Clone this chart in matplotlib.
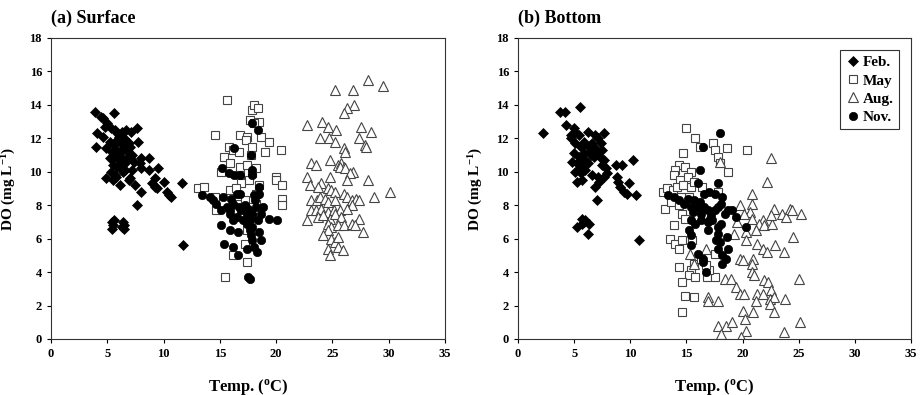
import matplotlib
matplotlib.use('Agg')
import matplotlib.pyplot as plt

plt.rcParams['font.family'] = ['Liberation Serif', 'DejaVu Serif']
plt.rcParams['font.weight'] = 'bold'
plt.rcParams['mathtext.fontset'] = 'custom'
plt.rcParams['mathtext.rm'] = 'Liberation Serif:bold'
plt.rcParams['mathtext.default'] = 'rm'

# surface data (temp, DO)
surf_feb = [(3.9, 13.6), (4.4, 13.3), (4.6, 13.2), (5.6, 13.5), (5.0, 12.9), (4.8, 12.7), (4.1, 12.3),
            (5.3, 12.6), (5.7, 12.5), (6.3, 12.4), (6.7, 12.5), (7.1, 12.4), (7.6, 12.6), (6.0, 12.1),
            (6.5, 12.0), (4.0, 11.5), (4.9, 11.4), (5.2, 11.8), (5.6, 11.6), (5.9, 11.9), (6.2, 11.7),
            (6.6, 11.8), (7.0, 11.5), (7.7, 11.8), (5.4, 11.2), (5.8, 11.3), (6.1, 11.1), (6.4, 11.4),
            (6.8, 11.2), (7.2, 11.0), (5.2, 10.8), (5.6, 10.9), (6.0, 10.7), (6.3, 10.8), (6.6, 10.5),
            (7.0, 10.9), (7.4, 10.6), (8.0, 10.8), (8.7, 10.8), (7.9, 10.5), (5.5, 10.4), (5.9, 10.3),
            (6.2, 10.2), (6.6, 10.1), (7.2, 10.1), (5.3, 10.0), (5.7, 9.8), (6.4, 10.0), (7.0, 9.6),
            (6.9, 9.5), (8.0, 10.2), (8.7, 10.1), (9.5, 10.2), (4.9, 9.6), (5.5, 9.5), (5.8, 9.7),
            (6.1, 9.2), (7.5, 9.2), (8.0, 8.8), (9.2, 9.6), (9.0, 9.3), (9.2, 9.1), (9.4, 9.0),
            (10.0, 9.4), (10.3, 8.8), (10.5, 8.6), (10.7, 8.5), (7.6, 8.0), (11.6, 9.3), (11.7, 5.6),
            (5.4, 7.0), (5.6, 7.1), (5.5, 6.8), (5.4, 6.6), (6.4, 7.0), (6.5, 6.8), (6.5, 6.6),
            (6.3, 6.7), (4.6, 12.1), (5.8, 11.0), (6.2, 10.5), (6.8, 10.9), (5.9, 12.3), (6.9, 11.7)]
surf_may = [(15.6, 14.3), (17.9, 13.7), (18.0, 14.0), (18.4, 13.8), (17.7, 13.1), (18.5, 13.0), (18.0, 12.9),
            (14.6, 12.2), (16.8, 12.2), (17.4, 12.1), (17.3, 11.9), (18.7, 12.1), (19.4, 11.8), (20.4, 11.3),
            (19.0, 11.2), (15.8, 11.5), (16.2, 11.3), (16.7, 11.2), (15.4, 10.9), (17.9, 11.5), (17.8, 11.0),
            (16.8, 10.3), (17.4, 10.4), (15.1, 10.0), (15.9, 10.5), (16.8, 9.8), (17.9, 9.9), (18.2, 10.2),
            (20.0, 9.7), (20.0, 9.5), (20.5, 9.2), (20.5, 8.4), (20.5, 8.0), (13.1, 9.0), (13.6, 9.1),
            (14.6, 8.5), (14.7, 7.7), (15.9, 8.9), (16.9, 9.3), (18.2, 8.7), (18.5, 9.2), (17.4, 6.5),
            (17.2, 5.7), (16.2, 5.0), (17.4, 4.6), (15.5, 3.7), (16.9, 7.5), (16.5, 8.1), (17.9, 7.3),
            (18.2, 8.1), (17.7, 7.9), (17.2, 8.3), (16.4, 9.0), (17.6, 9.5)]
surf_aug = [(28.2, 15.5), (29.5, 15.1), (25.2, 14.9), (26.8, 14.9), (26.9, 14.0), (26.3, 13.8), (26.0, 13.5),
            (22.7, 12.8), (24.1, 13.0), (24.6, 12.7), (25.3, 12.5), (27.5, 12.7), (28.4, 12.4), (23.9, 12.0),
            (24.7, 12.0), (25.2, 11.8), (27.4, 12.0), (27.9, 11.6), (28.0, 11.5), (26.0, 11.4), (26.1, 11.2),
            (24.8, 10.7), (23.1, 10.5), (23.5, 10.4), (25.5, 10.4), (25.8, 10.5), (26.0, 10.3), (25.7, 10.3),
            (26.1, 10.2), (26.8, 10.0), (26.6, 9.9), (22.7, 9.7), (24.8, 9.7), (26.3, 9.5), (28.2, 9.5),
            (24.0, 9.3), (23.0, 9.2), (23.7, 9.1), (24.6, 9.0), (24.9, 8.9), (25.2, 8.8), (30.1, 8.8),
            (28.7, 8.5), (23.1, 8.3), (23.6, 8.3), (23.9, 8.5), (24.3, 8.4), (24.6, 8.2), (25.2, 8.3),
            (26.0, 8.7), (26.3, 8.5), (26.7, 8.3), (27.1, 8.4), (27.4, 8.3), (26.7, 8.0), (23.1, 7.7),
            (23.5, 7.7), (24.0, 7.8), (24.6, 7.6), (25.1, 7.7), (25.7, 7.7), (26.3, 7.8), (23.7, 7.3),
            (24.2, 7.4), (24.8, 7.2), (25.2, 7.5), (25.8, 7.3), (22.7, 7.1), (27.4, 7.2), (24.6, 6.9),
            (24.9, 6.7), (25.5, 6.8), (26.0, 6.8), (26.7, 6.9), (27.0, 6.8), (24.6, 6.5), (27.7, 6.4),
            (24.2, 6.2), (24.9, 6.0), (25.2, 5.8), (25.5, 6.1), (25.5, 5.5), (24.6, 5.4), (25.9, 5.3),
            (24.8, 5.0)]
surf_nov = [(16.3, 11.4), (18.4, 12.5), (17.9, 12.9), (17.8, 11.0), (15.2, 10.2), (15.8, 9.9), (16.3, 9.8),
            (16.8, 9.8), (17.9, 9.8), (17.9, 10.1), (13.4, 8.6), (14.1, 8.5), (14.4, 8.3), (14.7, 8.1),
            (15.3, 8.5), (15.1, 7.7), (15.6, 7.9), (15.9, 7.5), (16.2, 8.1), (16.5, 8.7), (16.8, 8.7),
            (16.5, 7.3), (16.9, 7.7), (17.4, 7.5), (17.7, 7.1), (17.9, 7.5), (18.1, 8.3), (18.2, 7.9),
            (18.5, 8.7), (18.5, 9.1), (18.7, 7.5), (18.8, 7.9), (18.4, 7.1), (17.9, 6.7), (17.4, 6.9),
            (15.9, 7.7), (16.2, 7.1), (17.1, 7.1), (17.8, 7.3), (19.4, 7.2), (20.1, 7.1), (15.1, 6.8),
            (15.9, 6.5), (16.6, 6.4), (17.7, 6.5), (18.5, 6.4), (15.4, 5.7), (16.2, 5.5), (17.9, 5.9),
            (18.7, 5.9), (18.0, 5.5), (18.3, 5.2), (16.6, 5.0), (17.5, 3.7), (17.7, 3.6), (17.4, 5.4),
            (17.8, 6.2), (16.0, 8.4), (17.2, 8.0), (18.0, 8.6), (16.7, 7.9), (17.5, 7.8)]

# bottom data (temp, DO)
bot_feb = [(2.2, 12.3), (3.7, 13.6), (4.2, 13.6), (5.5, 13.9), (4.3, 12.8), (5.0, 12.6), (5.1, 12.4),
           (4.7, 12.2), (5.4, 12.2), (6.2, 12.4), (6.9, 12.2), (7.7, 12.3), (7.1, 12.0), (7.4, 11.7),
           (4.7, 12.0), (5.1, 11.7), (5.6, 11.5), (5.9, 11.8), (6.3, 11.5), (6.6, 11.7), (6.9, 11.4),
           (7.1, 11.2), (7.5, 11.3), (5.0, 11.1), (5.4, 10.9), (5.9, 11.1), (6.5, 11.0), (6.8, 10.9),
           (7.4, 10.8), (7.7, 10.7), (4.8, 10.6), (5.3, 10.5), (5.7, 10.4), (6.2, 10.5), (5.5, 10.2),
           (6.0, 10.1), (7.5, 10.4), (7.8, 10.2), (7.9, 9.9), (5.1, 10.0), (5.6, 9.9), (6.6, 9.8),
           (7.1, 9.7), (7.7, 9.7), (7.2, 9.4), (6.9, 9.1), (5.3, 9.4), (5.7, 9.5), (8.7, 10.4),
           (9.3, 10.4), (10.2, 10.7), (8.8, 9.7), (8.9, 9.4), (9.1, 9.1), (9.4, 8.8), (9.7, 8.7),
           (9.9, 9.3), (10.5, 8.6), (7.0, 8.3), (10.8, 5.9), (5.7, 7.2), (5.9, 7.0), (6.0, 7.1),
           (5.3, 6.7), (6.3, 6.9), (6.2, 6.3), (5.7, 6.9), (6.0, 10.7), (6.4, 11.2)]
bot_may = [(15.0, 12.6), (15.8, 12.0), (17.4, 11.7), (17.5, 11.3), (18.6, 11.4), (20.4, 11.3), (16.2, 11.5),
           (17.8, 10.9), (18.0, 10.5), (14.7, 11.1), (14.3, 10.4), (14.9, 10.3), (14.0, 10.1), (15.4, 10.0),
           (18.7, 10.0), (13.9, 9.8), (14.4, 9.5), (15.1, 9.7), (12.9, 8.8), (13.3, 9.0), (13.8, 8.9),
           (14.2, 9.1), (14.7, 9.2), (15.4, 9.1), (15.7, 9.4), (16.4, 9.1), (17.8, 8.8), (13.1, 7.8),
           (13.6, 8.2), (14.3, 8.0), (14.8, 8.3), (15.2, 8.5), (14.5, 8.5), (14.6, 7.5), (14.9, 7.2),
           (13.9, 6.8), (13.5, 6.0), (14.0, 5.7), (14.3, 5.4), (14.6, 5.9), (15.5, 5.9), (17.5, 5.1),
           (14.3, 4.3), (15.7, 4.5), (15.4, 4.1), (15.2, 3.8), (15.8, 3.7), (16.8, 3.7), (17.5, 3.7),
           (17.0, 4.1), (14.6, 3.4), (14.9, 2.6), (15.7, 2.5), (14.6, 1.6), (16.3, 4.8), (16.7, 4.4)]
bot_aug = [(18.0, 10.6), (22.5, 10.8), (22.2, 9.4), (19.8, 8.0), (20.8, 8.1), (20.7, 7.6), (20.1, 7.5),
           (20.8, 7.2), (21.8, 7.1), (21.5, 6.9), (21.9, 6.8), (22.6, 6.9), (22.8, 7.8), (22.5, 7.4),
           (23.5, 7.5), (23.9, 7.3), (24.2, 7.8), (24.4, 7.7), (25.2, 7.5), (20.8, 8.7), (24.5, 6.1),
           (19.5, 7.0), (19.2, 6.3), (20.3, 6.4), (21.2, 6.5), (20.3, 5.9), (21.3, 5.7), (22.9, 5.6),
           (21.8, 5.4), (22.2, 5.2), (23.7, 5.2), (15.3, 5.1), (16.7, 5.4), (15.7, 4.5), (19.8, 4.8),
           (20.0, 4.7), (20.9, 4.8), (20.8, 4.5), (18.4, 3.6), (19.0, 3.6), (20.8, 4.0), (21.0, 3.8),
           (21.9, 3.5), (22.3, 3.4), (25.0, 3.6), (19.4, 3.1), (19.8, 2.7), (20.1, 2.7), (21.3, 2.7),
           (21.8, 2.7), (22.5, 2.9), (21.2, 2.3), (22.4, 2.4), (22.8, 2.5), (22.4, 2.1), (23.8, 2.4),
           (16.9, 2.5), (16.9, 2.3), (17.8, 2.3), (20.0, 1.7), (20.2, 1.2), (20.9, 1.6), (22.8, 1.6),
           (25.1, 1.0), (17.8, 0.8), (18.5, 0.8), (19.1, 1.0), (18.1, 0.3), (20.3, 0.5), (19.9, 0.1),
           (23.7, 0.4)]
bot_nov = [(18.0, 12.3), (16.5, 11.5), (16.2, 10.1), (13.4, 8.6), (13.9, 8.5), (14.3, 8.3), (14.8, 8.1),
           (15.1, 8.4), (15.4, 7.9), (15.7, 8.3), (16.0, 7.9), (16.3, 7.5), (16.6, 7.9), (16.9, 7.7),
           (17.2, 7.4), (17.5, 7.7), (17.8, 7.9), (18.1, 8.1), (18.2, 8.5), (18.4, 7.5), (18.7, 7.7),
           (19.1, 7.7), (19.4, 7.3), (20.3, 6.7), (16.0, 9.3), (17.8, 9.3), (17.0, 8.8), (17.5, 8.7),
           (16.6, 8.7), (15.4, 7.1), (15.8, 6.9), (16.3, 7.1), (16.9, 7.0), (17.3, 7.1), (17.8, 6.7),
           (18.1, 6.9), (16.9, 6.5), (15.2, 6.5), (15.4, 6.2), (17.8, 6.3), (17.6, 5.9), (18.0, 5.8),
           (18.6, 6.1), (17.8, 5.4), (18.7, 5.4), (15.4, 5.6), (18.2, 5.0), (18.5, 4.8), (16.0, 5.1),
           (16.5, 4.8), (16.5, 4.6), (16.7, 4.0), (18.2, 4.5), (15.6, 7.6), (16.2, 8.2), (17.1, 7.2)]

months = ['Feb.', 'May', 'Aug.', 'Nov.']
styles = {
    'Feb.': dict(marker='D', ms=5, mfc='black', mec='black', mew=0.5),
    'May': dict(marker='s', ms=6, mfc='white', mec='#444444', mew=0.8),
    'Aug.': dict(marker='^', ms=6.5, mfc='white', mec='#444444', mew=0.8),
    'Nov.': dict(marker='o', ms=6, mfc='black', mec='black', mew=0.5),
}


def plotPanel(ax, data, title):
    for m in months:
        t, do = zip(*data[m])
        ax.plot(t, do, linestyle='none', label=m, **styles[m])
    ax.set_xlim(0, 35)
    ax.set_ylim(0, 18)
    ax.set_xticks(range(0, 36, 5))
    ax.set_yticks(range(0, 19, 2))
    ax.tick_params(direction='out', length=3, width=0.8, labelsize=9, top=False, right=False)
    for s in ax.spines.values():
        s.set_linewidth(0.8)
        s.set_color('#333333')
    ax.set_xlabel('Temp. ($^{o}$C)', fontsize=12, fontweight='bold', labelpad=12)
    ax.set_ylabel('DO (mg L$^{-1}$)', fontsize=11, fontweight='bold', labelpad=8)
    ax.set_title(title, loc='left', fontsize=13, fontweight='bold', pad=11)


fig = plt.figure(figsize=(9.22, 3.95), dpi=100)
ax1 = fig.add_axes([0.0553, 0.1418, 0.4273, 0.762])
ax2 = fig.add_axes([0.5618, 0.1418, 0.4263, 0.762])

plotPanel(ax1, {'Feb.': surf_feb, 'May': surf_may, 'Aug.': surf_aug, 'Nov.': surf_nov}, '(a) Surface')
plotPanel(ax2, {'Feb.': bot_feb, 'May': bot_may, 'Aug.': bot_aug, 'Nov.': bot_nov}, '(b) Bottom')

leg = ax2.legend(loc='upper right', fontsize=11, frameon=True, fancybox=False, borderpad=0.35,
                 handletextpad=0.1, handlelength=1.0, labelspacing=0.3, borderaxespad=0.8)
leg.get_frame().set_edgecolor('black')
leg.get_frame().set_linewidth(0.8)
for txt in leg.get_texts():
    txt.set_fontweight('bold')

fig.savefig('out.png', dpi=100)
